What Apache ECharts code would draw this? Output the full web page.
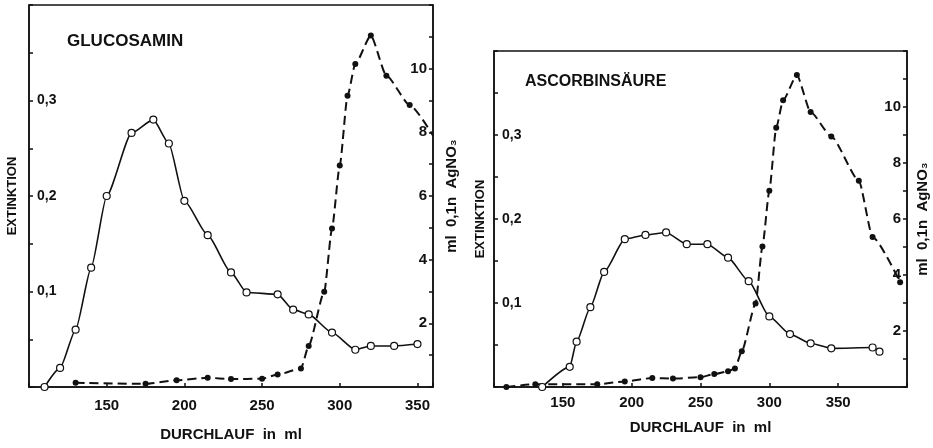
<!DOCTYPE html>
<html>
<head>
<meta charset="utf-8">
<script src="https://cdn.jsdelivr.net/npm/echarts@6/dist/echarts.min.js"></script>
<style>
  html, body { margin: 0; padding: 0; background: #fff; }
  #chart { width: 933px; height: 448px; }
</style>
</head>
<body>
<div id="chart"></div>
<script>
// Glucosamin panel
const glucExtMl = [110, 120, 130, 140, 150, 166, 180, 190, 200, 215, 230, 240, 260, 270, 280, 295, 310, 320, 335, 350]
const glucExt = [0, 0.02, 0.06, 0.125, 0.2, 0.266, 0.28, 0.255, 0.195, 0.159, 0.12, 0.099, 0.097, 0.081, 0.076, 0.057, 0.039, 0.043, 0.043, 0.045]
const glucAgMl = [130, 175, 195, 215, 230, 250, 260, 275, 280, 290, 295, 300, 305, 310, 320, 330, 345, 360]
const glucAg = [0.13, 0.1, 0.21, 0.29, 0.25, 0.26, 0.39, 0.58, 1.29, 2.99, 4.98, 6.96, 9.15, 10.15, 11.04, 9.78, 8.86, 7.9]

// Ascorbinsäure panel
const ascExtMl = [135, 155, 160, 170, 180, 195, 210, 225, 240, 255, 270, 285, 300, 315, 330, 345, 375, 380]
const ascExt = [0, 0.024, 0.054, 0.095, 0.137, 0.176, 0.181, 0.184, 0.17, 0.17, 0.154, 0.126, 0.084, 0.063, 0.052, 0.046, 0.047, 0.042]
const ascAgMl = [109, 130, 175, 195, 215, 230, 250, 260, 270, 275, 280, 290, 295, 300, 305, 310, 320, 330, 345, 365, 375, 395]
const ascAg = [0, 0.1, 0.1, 0.2, 0.32, 0.3, 0.35, 0.46, 0.56, 0.66, 1.28, 2.98, 5.02, 7.01, 9.26, 10.24, 11.14, 9.82, 8.95, 7.37, 5.36, 3.74]

const ink = '#111'
const font = 'Liberation Sans'

function pairs(xs, ys) {
  return xs.map((x, i) => [x, ys[i]])
}

function extLabel(v) {
  const k = Math.round(v * 100)
  return k === 10 || k === 20 || k === 30 ? '0,' + k / 10 : ''
}

function agLabel(v) {
  return v % 2 === 0 && v > 0 && v < 12 ? String(v) : ''
}

function xAxis(gridIndex, max, labelMargin, nameGap) {
  return {
    type: 'value', gridIndex, min: 100, max, interval: 50,
    name: 'DURCHLAUF  in  ml', nameLocation: 'middle', nameGap,
    nameTextStyle: { color: ink, fontFamily: font, fontSize: 15, fontWeight: 'bold' },
    axisLine: { lineStyle: { color: ink, width: 1.5 } },
    axisTick: { inside: true, length: 4, lineStyle: { color: ink, width: 1.5 } },
    axisLabel: {
      color: ink, fontFamily: font, fontSize: 15, fontWeight: 'bold', margin: labelMargin,
      formatter: (v) => (v > 100 && v <= 350 ? String(v) : '')
    },
    splitLine: { show: false }
  }
}

function extAxis(gridIndex, nameGap) {
  return {
    type: 'value', gridIndex, position: 'left', min: 0, max: 0.4, interval: 0.05,
    name: 'EXTINKTION', nameLocation: 'middle', nameGap,
    nameTextStyle: { color: ink, fontFamily: font, fontSize: 13, fontWeight: 'bold' },
    axisLine: { show: true, lineStyle: { color: ink, width: 1.5 } },
    axisTick: { show: true, inside: true, length: 4, lineStyle: { color: ink, width: 1.5 } },
    axisLabel: { inside: true, margin: 8, color: ink, fontFamily: font, fontSize: 14, fontWeight: 'bold', formatter: extLabel },
    splitLine: { show: false }
  }
}

function agAxis(gridIndex, nameGap) {
  return {
    type: 'value', gridIndex, position: 'right', min: 0, max: 12, interval: 1,
    name: 'ml  0,1n  AgNO₃', nameLocation: 'middle', nameGap, nameRotate: 90,
    nameTextStyle: { color: ink, fontFamily: font, fontSize: 15, fontWeight: 'bold' },
    axisLine: { show: true, lineStyle: { color: ink, width: 1.5 } },
    axisTick: { show: true, inside: true, length: 4, lineStyle: { color: ink, width: 1.5 } },
    axisLabel: { inside: true, margin: 6, color: ink, fontFamily: font, fontSize: 15, fontWeight: 'bold', formatter: agLabel },
    splitLine: { show: false }
  }
}

function extSeries(xIndex, yIndex, data) {
  return {
    type: 'line', xAxisIndex: xIndex, yAxisIndex: yIndex, data,
    smooth: 0.2, smoothMonotone: 'x',
    symbol: 'circle', symbolSize: 7,
    itemStyle: { color: '#fff', borderColor: ink, borderWidth: 1.2 },
    lineStyle: { color: ink, width: 1.6 },
    z: 3
  }
}

function agSeries(xIndex, yIndex, data) {
  return {
    type: 'line', xAxisIndex: xIndex, yAxisIndex: yIndex, data,
    smooth: 0.2, smoothMonotone: 'x',
    symbol: 'circle', symbolSize: 6,
    itemStyle: { color: ink, borderColor: ink, borderWidth: 0 },
    lineStyle: { color: ink, width: 2, type: [9, 5] },
    z: 2
  }
}

const glucAgData = pairs(glucAgMl, glucAg)
glucAgData[glucAgData.length - 1] = { value: glucAgData[glucAgData.length - 1], symbol: 'none' }

const chart = echarts.init(document.getElementById('chart'))
chart.setOption({
  animation: false,
  backgroundColor: '#fff',
  title: [
    { text: 'GLUCOSAMIN', left: 62, top: 28, textStyle: { color: ink, fontFamily: font, fontSize: 17, fontWeight: 'bold' } },
    { text: 'ASCORBINSÄURE', left: 520, top: 69, textStyle: { color: ink, fontFamily: font, fontSize: 16, fontWeight: 'bold' } }
  ],
  grid: [
    { left: 29, top: 5, width: 404, height: 382, show: true, borderColor: ink, borderWidth: 1.5 },
    { left: 494, top: 51, width: 413, height: 336, show: true, borderColor: ink, borderWidth: 1.5 }
  ],
  xAxis: [xAxis(0, 360, 11, 40), xAxis(1, 400, 8, 33)],
  yAxis: [extAxis(0, 10), agAxis(0, 11), extAxis(1, 7), agAxis(1, 8)],
  series: [
    extSeries(0, 0, pairs(glucExtMl, glucExt)),
    agSeries(0, 1, glucAgData),
    extSeries(1, 2, pairs(ascExtMl, ascExt)),
    agSeries(1, 3, pairs(ascAgMl, ascAg))
  ]
})
</script>
</body>
</html>
